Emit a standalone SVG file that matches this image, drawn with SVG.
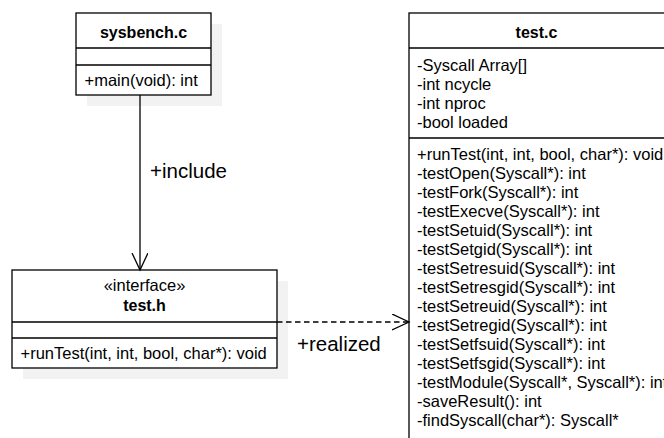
<svg xmlns="http://www.w3.org/2000/svg" width="664" height="438" viewBox="0 0 664 438">
<style>
.box{fill:#ffffff;stroke:#000000;stroke-width:1.3}
.shadow{fill:#f2f2f2;stroke:none}
.sep{stroke:#000000;stroke-width:1.3;fill:none}
.t{font-family:"Liberation Sans",Arial,sans-serif;font-size:16.5px;fill:#000000}
.b{font-weight:bold;font-size:16px}
.c{text-anchor:middle}
.lbl{font-family:"Liberation Sans",Arial,sans-serif;font-size:20.5px;fill:#000000}
.edge{stroke:#000000;stroke-width:1.3;fill:none}
.dash{stroke-dasharray:5.5 3.5}
</style>
<defs>
<marker id="open" markerWidth="20" markerHeight="20" refX="17" refY="8" orient="auto" markerUnits="userSpaceOnUse">
<path d="M0,0 L17,8 L0,16" fill="none" stroke="#000000" stroke-width="1.3"/>
</marker>
</defs>
<g id="sysbench">
<rect class="shadow" x="87" y="24" width="135" height="82"/>
<rect class="box" x="76" y="13" width="135" height="82"/>
<line class="sep" x1="76" y1="48" x2="211" y2="48"/>
<line class="sep" x1="76" y1="65" x2="211" y2="65"/>
<text class="t b c" x="143.5" y="37.5">sysbench.c</text>
<text class="t" x="84.5" y="85.5">+main(void): int</text>
</g>
<g id="testh">
<rect class="shadow" x="23" y="281" width="265" height="98"/>
<rect class="box" x="12" y="270" width="265" height="98"/>
<line class="sep" x1="12" y1="322" x2="277" y2="322"/>
<line class="sep" x1="12" y1="338" x2="277" y2="338"/>
<text class="t c" x="144.5" y="290.5">«interface»</text>
<text class="t b c" x="144.5" y="310.5">test.h</text>
<text class="t" x="20.5" y="358.5">+runTest(int, int, bool, char*): void</text>
</g>
<g id="testc">
<rect class="box" x="409" y="13" width="280" height="440"/>
<line class="sep" x1="409" y1="48" x2="689" y2="48"/>
<line class="sep" x1="409" y1="138" x2="689" y2="138"/>
<text class="t b c" x="536.5" y="37.5">test.c</text>
<text class="t" x="417">
<tspan x="417" y="70.5">-Syscall Array[]</tspan>
<tspan x="417" y="89.5">-int ncycle</tspan>
<tspan x="417" y="108.5">-int nproc</tspan>
<tspan x="417" y="127.5">-bool loaded</tspan>
</text>
<text class="t" x="417">
<tspan x="417" y="160">+runTest(int, int, bool, char*): void</tspan>
<tspan x="417" y="179">-testOpen(Syscall*): int</tspan>
<tspan x="417" y="198">-testFork(Syscall*): int</tspan>
<tspan x="417" y="217">-testExecve(Syscall*): int</tspan>
<tspan x="417" y="236">-testSetuid(Syscall*): int</tspan>
<tspan x="417" y="255">-testSetgid(Syscall*): int</tspan>
<tspan x="417" y="274">-testSetresuid(Syscall*): int</tspan>
<tspan x="417" y="293">-testSetresgid(Syscall*): int</tspan>
<tspan x="417" y="312">-testSetreuid(Syscall*): int</tspan>
<tspan x="417" y="331">-testSetregid(Syscall*): int</tspan>
<tspan x="417" y="350">-testSetfsuid(Syscall*): int</tspan>
<tspan x="417" y="369">-testSetfsgid(Syscall*): int</tspan>
<tspan x="417" y="388">-testModule(Syscall*, Syscall*): int</tspan>
<tspan x="417" y="407">-saveResult(): int</tspan>
<tspan x="417" y="426">-findSyscall(char*): Syscall*</tspan>
</text>
</g>
<g id="connectors">
<line class="edge" x1="140" y1="95" x2="140" y2="270" marker-end="url(#open)"/>
<text class="lbl" x="150" y="178">+include</text>
<line class="edge dash" x1="277" y1="322" x2="409" y2="322" marker-end="url(#open)"/>
<text class="lbl" x="297" y="351">+realized</text>
</g>
</svg>
